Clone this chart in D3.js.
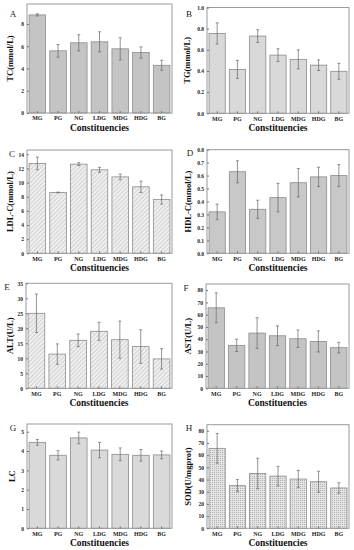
<!DOCTYPE html>
<html><head><meta charset="utf-8">
<script src="https://cdn.jsdelivr.net/npm/d3@7/dist/d3.min.js"></script>
<style>body{margin:0;background:#fff}svg{display:block}</style>
</head><body><svg id="c" width="354" height="550"></svg>
<script>
const categories = ["MG","PG","NG","LDG","MDG","HDG","BG"];
const tcValues  = [8.82, 5.59, 6.31, 6.40, 5.77, 5.44, 4.29];
const tcErrors  = [0.10, 0.57, 0.73, 0.90, 1.00, 0.50, 0.45];
const tgValues  = [0.755, 0.415, 0.73, 0.55, 0.51, 0.455, 0.397];
const tgErrors  = [0.10, 0.085, 0.06, 0.06, 0.09, 0.05, 0.075];
const ldlValues = [12.7, 8.6, 12.6, 11.8, 10.8, 9.4, 7.6];
const ldlErrors = [0.9, 0.05, 0.2, 0.35, 0.4, 0.8, 0.65];
const hdlValues = [0.32, 0.63, 0.34, 0.43, 0.545, 0.59, 0.60];
const hdlErrors = [0.06, 0.085, 0.07, 0.11, 0.11, 0.075, 0.085];
const altValues = [25.0, 11.4, 16.0, 19.0, 16.2, 13.9, 9.8];
const altErrors = [6.4, 3.4, 2.1, 3.0, 6.2, 5.6, 3.4];
const astValues = [65.6, 35.0, 45.0, 42.8, 40.4, 38.2, 33.1];
const astErrors = [12.2, 5.0, 12.5, 8.0, 7.1, 8.6, 4.3];
const lcValues  = [4.45, 3.78, 4.68, 4.05, 3.83, 3.78, 3.80];
const lcErrors  = [0.15, 0.24, 0.3, 0.4, 0.33, 0.3, 0.2];
const sodValues = [65.6, 35.0, 45.0, 42.8, 40.4, 38.2, 33.1];
const sodErrors = [12.2, 5.0, 12.5, 8.0, 7.1, 8.6, 4.3];
const panelLetters = ["A","B","C","D","E","F","G","H"];
const yTitles = ["TC(mmol/L)","TG(mmol/L)","LDL-C(mmol/L)","HDL-C(mmol/L)","ALT(U/L)","AST(U/L)","LC","SOD(U/mgprot)"];
const yTickValues = [
  [0,2,4,6,8],
  [0,0.2,0.4,0.6,0.8,1.0],
  [0,2,4,6,8,10,12,14],
  [0,0.1,0.2,0.3,0.4,0.5,0.6,0.7,0.8],
  [0,5,10,15,20,25,30,35],
  [0,10,20,30,40,50,60,70,80],
  [0,1,2,3,4,5],
  [0,10,20,30,40,50,60,70,80]
];
const yMax = [9.8, 1.0, 14.6, 0.8, 35, 85, 5.4, 85];
const xTitle = "Constituencies";

const seriesValues = [tcValues,tgValues,ldlValues,hdlValues,altValues,astValues,lcValues,sodValues];
const seriesErrors = [tcErrors,tgErrors,ldlErrors,hdlErrors,altErrors,astErrors,lcErrors,sodErrors];

// layout (pixel geometry, not data)
const layout = [
  {l:27, r:172, t:4,   b:113, fill:"#c4c4c4", fmt:d3.format("d"),   lx:13, ly:14, tx:10},
  {l:207,r:349, t:7.5, b:113.3, fill:"#d9d9d9", fmt:d3.format(".1f"), lx:189, ly:14, tx:187},
  {l:27, r:172, t:150, b:253.3, fill:"url(#hatch)", fmt:d3.format("d"), lx:12, ly:154, tx:10},
  {l:207,r:349, t:149.7, b:253.3, fill:"#c8c8c8", fmt:d3.format(".1f"), lx:190, ly:153, tx:188},
  {l:26, r:172, t:283.3, b:388.3, fill:"url(#hatch)", fmt:d3.format("d"), lx:7, ly:287, tx:10},
  {l:206,r:349, t:284, b:388.3, fill:"#c4c4c4", fmt:d3.format("d"), lx:186, ly:288, tx:188},
  {l:27, r:172, t:424, b:528.3, fill:"#d9d9d9", fmt:d3.format("d"), lx:13, ly:428, tx:12},
  {l:207,r:349, t:424.7, b:528.3, fill:"url(#cross)", fmt:d3.format("d"), lx:189, ly:428, tx:188}
];

const svg = d3.select("#c");
const defs = svg.append("defs");
const h = defs.append("pattern").attr("id","hatch").attr("patternUnits","userSpaceOnUse")
  .attr("width",3).attr("height",3).attr("patternTransform","rotate(45)");
h.append("rect").attr("width",3).attr("height",3).attr("fill","#f0f0f0");
h.append("line").attr("x1",0).attr("y1",0).attr("x2",0).attr("y2",3).attr("stroke","#a8a8a8").attr("stroke-width",0.9);
const cp = defs.append("pattern").attr("id","cross").attr("patternUnits","userSpaceOnUse")
  .attr("width",2).attr("height",2);
cp.append("rect").attr("width",2).attr("height",2).attr("fill","#e4e4e4");
cp.append("rect").attr("width",1).attr("height",1).attr("fill","#b0b0b0");

const serif = "'Liberation Serif','Times New Roman',serif";

layout.forEach((L,i)=>{
  const g = svg.append("g");
  const x = d3.scaleBand().domain(categories).range([L.l,L.r]).paddingInner(0.2).paddingOuter(0.1);
  const y = d3.scaleLinear().domain([0,yMax[i]]).range([L.b,L.t]);
  const vals = seriesValues[i], errs = seriesErrors[i];
  const data = categories.map((c,j)=>({c, v:vals[j], e:errs[j]}));

  g.selectAll("rect.bar").data(data).join("rect").attr("class","bar")
    .attr("x",d=>x(d.c)).attr("width",x.bandwidth())
    .attr("y",d=>y(d.v)).attr("height",d=>y(0)-y(d.v))
    .attr("fill",L.fill).attr("stroke","#8c8c8c").attr("stroke-width",0.8);

  const eb = g.selectAll("g.err").data(data).join("g").attr("class","err");
  eb.append("line").attr("x1",d=>x(d.c)+x.bandwidth()/2).attr("x2",d=>x(d.c)+x.bandwidth()/2)
    .attr("y1",d=>y(d.v-d.e)).attr("y2",d=>y(d.v+d.e)).attr("stroke","#666").attr("stroke-width",0.7);
  eb.append("line").attr("x1",d=>x(d.c)+x.bandwidth()/2-1.5).attr("x2",d=>x(d.c)+x.bandwidth()/2+1.5)
    .attr("y1",d=>y(d.v+d.e)).attr("y2",d=>y(d.v+d.e)).attr("stroke","#666").attr("stroke-width",0.7);
  eb.append("line").attr("x1",d=>x(d.c)+x.bandwidth()/2-1.5).attr("x2",d=>x(d.c)+x.bandwidth()/2+1.5)
    .attr("y1",d=>y(d.v-d.e)).attr("y2",d=>y(d.v-d.e)).attr("stroke","#666").attr("stroke-width",0.7);

  // frame
  g.append("rect").attr("x",L.l).attr("y",L.t).attr("width",L.r-L.l).attr("height",L.b-L.t)
    .attr("fill","none").attr("stroke","#9a9a9a").attr("stroke-width",1);

  // y axis
  const ya = g.append("g").attr("transform",`translate(${L.l},0)`)
    .call(d3.axisLeft(y).tickValues(yTickValues[i]).tickSize(-2).tickPadding(3).tickFormat(L.fmt));
  ya.select(".domain").remove();
  ya.selectAll("line").attr("stroke","#777");
  ya.selectAll("text").attr("font-family",serif).attr("font-weight","bold").attr("font-size",5.5).attr("fill","#222");

  // x axis
  const xa = g.append("g").attr("transform",`translate(0,${L.b})`)
    .call(d3.axisBottom(x).tickSize(-2).tickPadding(3));
  xa.select(".domain").remove();
  xa.selectAll("line").attr("stroke","#777");
  xa.selectAll("text").attr("font-family",serif).attr("font-weight","bold").attr("font-size",6).attr("fill","#222");

  // titles
  g.append("text").attr("x",(L.l+L.r)/2).attr("y",L.b+17.5).attr("text-anchor","middle")
    .attr("font-family",serif).attr("font-weight","bold").attr("font-size",9.5).attr("fill","#111").text(xTitle);
  g.append("text").attr("transform",`translate(${L.tx+3},${(L.t+L.b)/2}) rotate(-90)`).attr("text-anchor","middle")
    .attr("font-family",serif).attr("font-weight","bold").attr("font-size",8.5).attr("fill","#111").text(yTitles[i]);
  g.append("text").attr("x",L.lx).attr("y",L.ly+3).attr("text-anchor","middle")
    .attr("font-family",serif).attr("font-size",9).attr("fill","#222").text(panelLetters[i]);
});
</script></body></html>
